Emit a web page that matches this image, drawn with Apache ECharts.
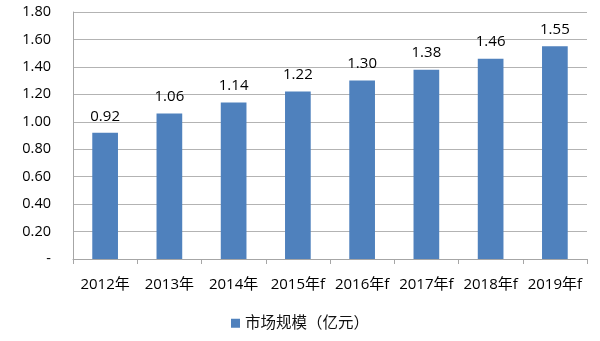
<!DOCTYPE html>
<html><head><meta charset="utf-8">
<script src="https://cdn.jsdelivr.net/npm/echarts@6/dist/echarts.min.js"></script>
<style>html,body{margin:0;padding:0;background:#fff}#c{width:600px;height:341px}</style>
</head><body><div id="c"></div>
<script>
const categories = ['2012年','2013年','2014年','2015年f','2016年f','2017年f','2018年f','2019年f'];
const values = [0.92,1.06,1.14,1.22,1.30,1.38,1.46,1.55];
const seriesName = '市场规模（亿元）';
const FONT = '"Open Sans","Noto Sans CJK SC",sans-serif';
const chart = echarts.init(document.getElementById('c'));
chart.setOption({
  animation:false,
  textStyle:{fontFamily:FONT},
  grid:{left:73,top:12,right:13,bottom:82,containLabel:false},
  legend:{bottom:5,left:'center',itemWidth:9,itemHeight:9,icon:'rect',itemGap:4,
    textStyle:{fontSize:15.5,color:'#111',fontFamily:FONT},data:[seriesName]},
  xAxis:{type:'category',data:categories,
    axisLine:{lineStyle:{color:'#a6a6a6'}},
    axisTick:{show:true,length:5,lineStyle:{color:'#a6a6a6'},alignWithLabel:false},
    axisLabel:{fontSize:15,color:'#000',margin:18,interval:0,fontFamily:FONT}},
  yAxis:{type:'value',min:0,max:1.8,interval:0.2,
    axisLine:{show:true,lineStyle:{color:'#a6a6a6'}},
    axisTick:{show:false},
    splitLine:{lineStyle:{color:'#b3b3b3'}},
    axisLabel:{fontSize:14.5,color:'#000',margin:22,fontFamily:FONT,
      formatter:v=>v===0?'-':v.toFixed(2)}},
  series:[{name:seriesName,type:'bar',data:values,barWidth:'40%',
    itemStyle:{color:'#4f81bd'},
    label:{show:true,position:'top',distance:9,fontSize:15,color:'#000',fontFamily:FONT,
      formatter:p=>p.value.toFixed(2)}}]
});
</script></body></html>
